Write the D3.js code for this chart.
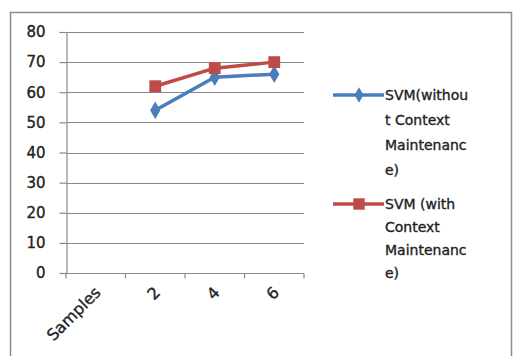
<!DOCTYPE html>
<html>
<head>
<meta charset="utf-8">
<script src="https://cdn.jsdelivr.net/npm/d3@7"></script>
<style>
  html, body { margin: 0; padding: 0; background: #fff; }
  svg { display: block; }
  text { font-family: "DejaVu Sans", Verdana, sans-serif; fill: #222; stroke: #222; stroke-width: 0.35px; }
</style>
</head>
<body>
<svg id="chart" width="514" height="356"></svg>
<script>
// Categories along the x axis
const categories = ["Samples", "2", "4", "6"];
// Accuracy values per category (null = no point)
const svmWithout = [null, 54, 65, 66];
const svmWith = [null, 62, 68, 70];
const yTicks = [0, 10, 20, 30, 40, 50, 60, 70, 80];
const seriesNames = [
  ["SVM(withou", "t Context", "Maintenanc", "e)"],
  ["SVM (with", "Context", "Maintenanc", "e)"]
];
const colors = ["#4a7ebb", "#be4b48"];

const svg = d3.select("#chart");
const plot = { left: 66, right: 304, top: 32, bottom: 273 };

// Outer chart border
svg.append("rect")
  .attr("x", 10.5).attr("y", 12.5)
  .attr("width", 501).attr("height", 360)
  .attr("fill", "none").attr("stroke", "#8c8c8c").attr("stroke-width", 1.5);

const x = d3.scaleBand().domain(categories).range([plot.left, plot.right]);
const y = d3.scaleLinear().domain([0, 80]).range([plot.bottom, plot.top]);

// Horizontal gridlines
svg.append("g").selectAll("line").data(yTicks.filter(d => d > 0)).join("line")
  .attr("x1", plot.left).attr("x2", plot.right)
  .attr("y1", d => Math.round(y(d)) + 0.5).attr("y2", d => Math.round(y(d)) + 0.5)
  .attr("stroke", "#8a8a8a").attr("stroke-width", 1.2);

// Y axis
const yAxis = svg.append("g")
  .attr("transform", `translate(${plot.left + 0.5},0)`)
  .call(d3.axisLeft(y).tickValues(yTicks).tickSize(7).tickPadding(14));
yAxis.select(".domain").attr("stroke", "#8a8a8a").attr("stroke-width", 1.2);
yAxis.selectAll(".tick line").attr("stroke", "#8a8a8a").attr("stroke-width", 1.2);
yAxis.selectAll("text").attr("font-size", 15).attr("fill", "#222")
  .attr("font-family", "DejaVu Sans, Verdana, sans-serif");

// X axis with ticks at category boundaries
const xAxisG = svg.append("g").attr("transform", `translate(0,${plot.bottom + 0.5})`);
xAxisG.append("line").attr("x1", plot.left).attr("x2", plot.right)
  .attr("stroke", "#8a8a8a").attr("stroke-width", 1.2);
const bounds = categories.map(c => x(c)).concat([x(categories[categories.length - 1]) + x.bandwidth()]);
xAxisG.selectAll(".bt").data(bounds).join("line").attr("class", "bt")
  .attr("x1", d => d).attr("x2", d => d).attr("y1", 0).attr("y2", 5)
  .attr("stroke", "#8a8a8a").attr("stroke-width", 1.2);
xAxisG.selectAll("text").data(categories).join("text")
  .attr("transform", d => `translate(${x(d) + x.bandwidth() / 2 + 6},${20}) rotate(-45)`)
  .attr("text-anchor", "end")
  .attr("font-size", 16)
  .text(d => d);

// Series lines and markers
const series = [svmWithout, svmWith];
const line = d3.line()
  .defined(d => d.v !== null)
  .x(d => x(d.c) + x.bandwidth() / 2)
  .y(d => y(d.v));

series.forEach((vals, i) => {
  const pts = categories.map((c, j) => ({ c, v: vals[j] }));
  svg.append("path").datum(pts)
    .attr("d", line).attr("fill", "none")
    .attr("stroke", colors[i]).attr("stroke-width", 3.5);
  const marker = i === 0 ? d3.symbol(d3.symbolDiamond, 90) : d3.symbol(d3.symbolSquare, 140);
  svg.append("g").selectAll("path").data(pts.filter(p => p.v !== null)).join("path")
    .attr("transform", p => `translate(${x(p.c) + x.bandwidth() / 2},${y(p.v)})`)
    .attr("d", marker).attr("fill", colors[i]);
});

// Legend
const legendY = [95, 204];
const rowGap = [25, 23];
seriesNames.forEach((lines, i) => {
  const g = svg.append("g");
  g.append("line").attr("x1", 333).attr("x2", 384)
    .attr("y1", legendY[i]).attr("y2", legendY[i])
    .attr("stroke", colors[i]).attr("stroke-width", 3.5);
  const marker = i === 0 ? d3.symbol(d3.symbolDiamond, 70) : d3.symbol(d3.symbolSquare, 130);
  g.append("path").attr("transform", `translate(${359},${legendY[i]})`)
    .attr("d", marker).attr("fill", colors[i]);
  lines.forEach((t, k) => {
    g.append("text").attr("x", 385).attr("y", legendY[i] + 5 + k * rowGap[i])
      .attr("font-size", 14).text(t);
  });
});
</script>
</body>
</html>
